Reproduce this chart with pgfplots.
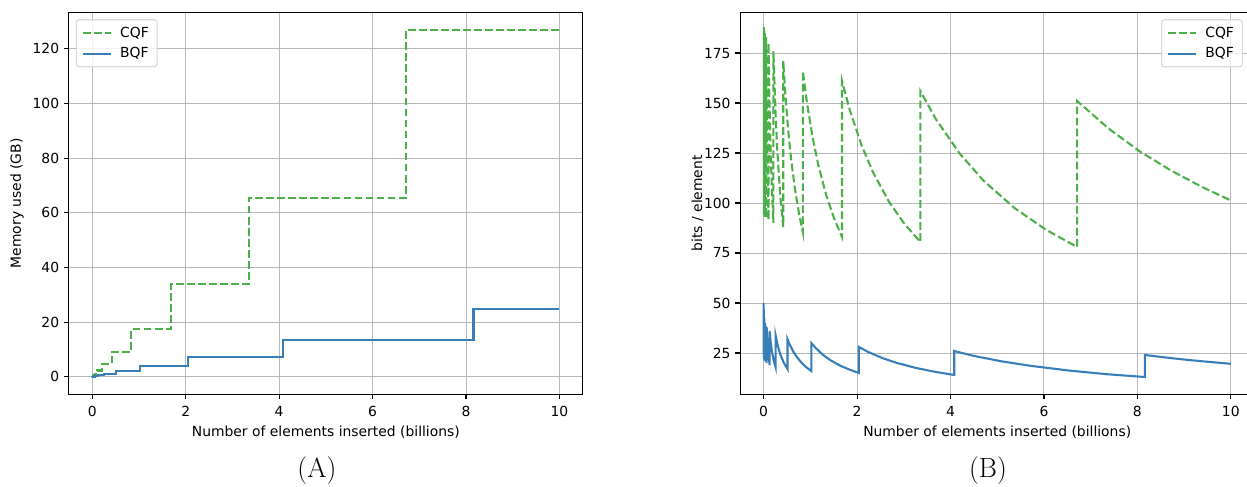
\documentclass[border=0pt]{standalone}
\usepackage{fontspec}
\usepackage{pgfplots}
\pgfplotsset{compat=1.18}
\newfontfamily\dejavu{DejaVu Sans}
\definecolor{cqf}{HTML}{4DAF4A}
\definecolor{bqf}{HTML}{377EB8}
\definecolor{gridgray}{HTML}{B8B8B8}

\pgfplotsset{mystyle/.style={
  scale only axis, width=370pt, height=275pt,
  anchor=south west,
  font=\dejavu\fontsize{10}{12}\selectfont,
  ticklabel style={font=\dejavu\fontsize{10}{12}\selectfont},
  label style={font=\dejavu\fontsize{10}{12}\selectfont},
  /pgf/number format/assume math mode=true,
  tick align=outside, tick pos=left,
  major tick length=3.5pt,
  every tick/.style={black, line width=0.8pt},
  axis line style={line width=0.8pt},
  grid=major,
  major grid style={color=gridgray, line width=0.65pt},
  xmin=-0.5, xmax=10.5, xtick={0,2,4,6,8,10},
  xlabel={Number of elements inserted (billions)},
  xlabel style={at={(axis description cs:0.5,-0.0987)}, anchor=center},
  xticklabel style={yshift=-1.5pt},
  legend cell align=left,
  legend style={draw=black!15, line width=0.8pt, rounded corners=2pt, fill=white, fill opacity=0.8, text opacity=1,
    font=\dejavu\fontsize{10}{12}\selectfont, inner xsep=4pt, inner ysep=3pt, row sep=2pt,
    /tikz/every odd column/.style={column sep=4pt}},
  legend image code/.code={\draw[#1] (0pt,0pt) -- (20pt,0pt);},
}}

\begin{document}
\begin{tikzpicture}
\useasboundingbox (0,0) rectangle (897.84pt,350.64pt);

% ---------------- (A) memory used ----------------
\begin{axis}[mystyle,
  at={(49.6pt,66.74pt)},
  ymin=-6.35, ymax=133.35, ytick={0,20,40,60,80,100,120},
  ylabel={Memory used (GB)},
  ylabel style={at={(axis description cs:-0.101,0.5)}, rotate=0, anchor=center},
  legend style={at={(0.0135,0.982)}, anchor=north west},
]
\addplot[const plot, color=cqf, line width=1.5pt, dash pattern=on 5.55pt off 2.4pt] coordinates {
(0,0) (0.00328,0.08) (0.00655,0.15) (0.0131,0.31) (0.0262,0.61) (0.0524,1.2) (0.1049,2.36)
(0.2097,4.61) (0.4194,9.2) (0.8389,17.5) (1.6777,33.9) (3.3554,65.6) (6.7109,126.9) (10,126.9)};
\addlegendentry{CQF}
\addplot[const plot, color=bqf, line width=1.5pt] coordinates {
(0,0) (0.001,0.006) (0.002,0.012) (0.004,0.023) (0.008,0.043) (0.0159,0.083) (0.0319,0.16)
(0.0637,0.30) (0.1275,0.58) (0.255,1.1) (0.51,2.1) (1.02,3.9) (2.04,7.3) (4.08,13.5) (8.16,24.8) (10,24.8)};
\addlegendentry{BQF}
\end{axis}

% ---------------- (B) bits per element ----------------
\begin{axis}[mystyle,
  at={(533.0pt,66.74pt)},
  ymin=4.35, ymax=195.35, ytick={25,50,75,100,125,150,175},
  ylabel={bits / element},
  ylabel style={at={(axis description cs:-0.0834,0.5)}, rotate=0, anchor=center},
  legend style={at={(0.978,0.982)}, anchor=north east},
]
\addplot[color=cqf, line width=1.5pt, dash pattern=on 5.55pt off 2.4pt] coordinates {
(0.00328,188) (0.00459,134.3) (0.00655,94)
(0.00655,187) (0.00917,133.6) (0.0131,93.5)
(0.0131,186) (0.01834,132.9) (0.0262,93)
(0.0262,185) (0.0367,132.1) (0.0524,92.5)
(0.0524,183) (0.0734,130.7) (0.1049,91.5)
(0.1049,180) (0.1259,150) (0.1468,128.6) (0.1783,105.9) (0.2097,90)
(0.2097,176) (0.2516,146.7) (0.2936,125.7) (0.3565,103.5) (0.4194,88)
(0.4194,171) (0.4613,155.5) (0.5243,136.8) (0.5872,122.1) (0.6710,106.9) (0.7549,95.0) (0.8389,85.5)
(0.8389,166) (0.9228,150.9) (1.0486,132.8) (1.1745,118.6) (1.3422,103.75) (1.5100,92.2) (1.6777,83)
(1.6777,161) (1.8455,146.4) (2.0971,128.8) (2.3488,115) (2.6843,100.6) (3.0199,89.4) (3.3554,80.5)
(3.3554,156) (3.6909,141.8) (4.1943,124.8) (4.6976,111.4) (5.3687,97.5) (6.0397,86.7) (6.7109,78)
(6.7109,151) (7.3820,137.3) (8.0531,125.8) (8.7242,116.2) (9.3953,107.9) (10.0,101.3)};
\addlegendentry{CQF}
\addplot[color=bqf, line width=1.5pt] coordinates {
(0.001,50) (0.0014,35.7) (0.002,25)
(0.002,47) (0.0028,33.6) (0.004,23.5)
(0.004,45) (0.0056,32.1) (0.008,22.5)
(0.008,43) (0.0112,30.7) (0.0159,21.5)
(0.0159,42) (0.0223,30) (0.0319,21)
(0.0319,40) (0.0446,28.6) (0.0637,20)
(0.0637,38) (0.0892,27.1) (0.1275,19)
(0.1275,36) (0.153,30) (0.1785,25.7) (0.2168,21.2) (0.255,18)
(0.255,34) (0.306,28.3) (0.357,24.3) (0.4335,20) (0.51,17)
(0.51,32) (0.561,29.1) (0.6375,25.6) (0.714,22.9) (0.816,20) (0.918,17.8) (1.02,16)
(1.02,30) (1.122,27.3) (1.275,24) (1.428,21.4) (1.632,18.75) (1.836,16.7) (2.04,15)
(2.04,28) (2.244,25.45) (2.55,22.4) (2.856,20) (3.264,17.5) (3.672,15.6) (4.08,14)
(4.08,26) (4.488,23.6) (5.1,20.8) (5.712,18.6) (6.528,16.25) (7.344,14.4) (8.16,13)
(8.16,24) (8.568,22.86) (8.976,21.8) (9.384,20.87) (10,19.6)};
\addlegendentry{BQF}
\end{axis}

\node[font=\fontsize{20}{24}\selectfont] at (228.2pt,12pt) {(A)};
\node[font=\fontsize{20}{24}\selectfont] at (711.4pt,12pt) {(B)};
\end{tikzpicture}
\end{document}
